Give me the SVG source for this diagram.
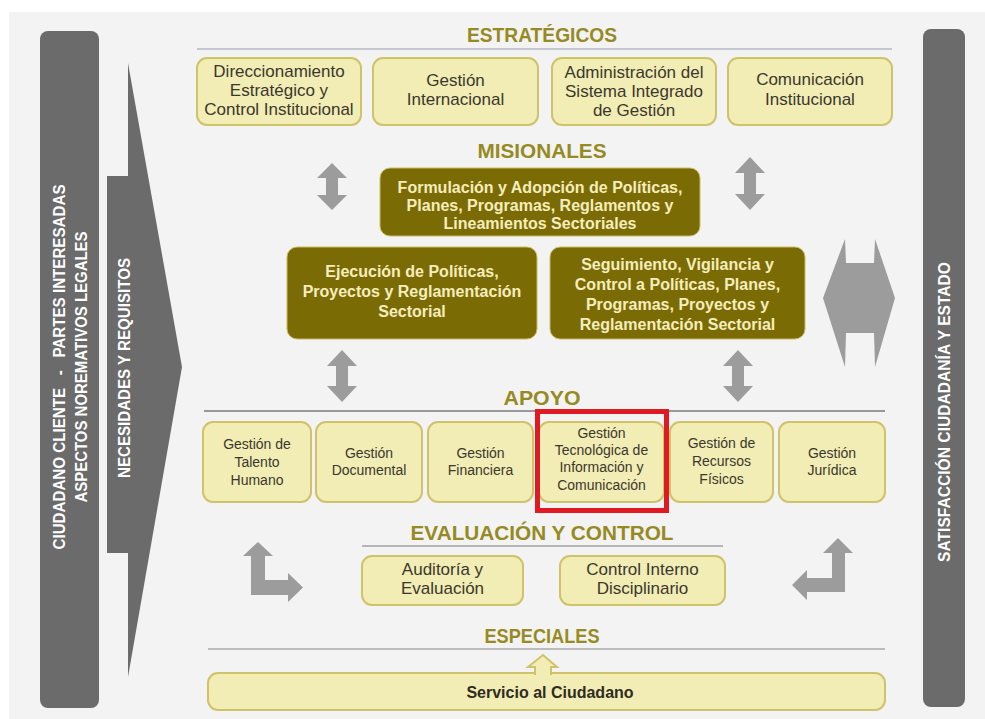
<svg xmlns="http://www.w3.org/2000/svg" width="985" height="719" viewBox="0 0 985 719">
<style>
text{font-family:"Liberation Sans",Arial,sans-serif}
.bg{fill:#f3f3f3}
.bar{fill:#6b6b6b}
.bartxt{fill:#ffffff;font-weight:bold;font-size:16px;text-anchor:middle}
.hdr{fill:#968a22;font-weight:bold;font-size:21px;text-anchor:middle}
.pale{fill:#f2ecb5;stroke:#cfc36a;stroke-width:2}
.olive{fill:#7b6b05;stroke:#c9bd62;stroke-width:1}
.t{fill:#3a382c;font-size:17px;text-anchor:middle}
.ts{fill:#3a382c;font-size:14px;text-anchor:middle}
.tm{fill:#f5eebc;font-size:16px;font-weight:bold;text-anchor:middle}
.arr{fill:#9c9c9c}
.rule{fill:none;stroke-width:1.5}
</style>
<rect x="0" y="0" width="985" height="719" fill="#ffffff"/>
<rect class="bg" x="9" y="12" width="976" height="707"/>

<g id="left-bar">
<rect class="bar" x="40" y="31" width="59" height="677" rx="8"/>
<text class="bartxt" transform="translate(65,367) rotate(-90)" textLength="365" lengthAdjust="spacingAndGlyphs">CIUDADANO CLIENTE&#160;&#160;&#160;-&#160;&#160;&#160;PARTES INTERESADAS</text>
<text class="bartxt" transform="translate(87,367) rotate(-90)" textLength="271" lengthAdjust="spacingAndGlyphs">ASPECTOS NOREMATIVOS LEGALES</text>
</g>

<g id="needs-arrow">
<polygon class="bar" points="128,63 182,367 128,677 128,553 107,553 107,176 128,176"/>
<text class="bartxt" transform="translate(130,368) rotate(-90)" textLength="220" lengthAdjust="spacingAndGlyphs">NECESIDADES Y REQUISITOS</text>
</g>

<g id="right-bar">
<rect class="bar" x="923" y="29" width="42" height="678" rx="8"/>
<text class="bartxt" transform="translate(950,412) rotate(-90)" textLength="300" lengthAdjust="spacingAndGlyphs">SATISFACCIÓN CIUDADANÍA Y ESTADO</text>
</g>

<g id="headers">
<text class="hdr" x="542" y="42" textLength="150" lengthAdjust="spacingAndGlyphs">ESTRATÉGICOS</text>
<text class="hdr" x="542" y="158" textLength="129" lengthAdjust="spacingAndGlyphs">MISIONALES</text>
<text class="hdr" x="542" y="405" textLength="77" lengthAdjust="spacingAndGlyphs">APOYO</text>
<text class="hdr" x="542" y="540" textLength="263" lengthAdjust="spacingAndGlyphs">EVALUACIÓN Y CONTROL</text>
<text class="hdr" x="542" y="643" textLength="115" lengthAdjust="spacingAndGlyphs">ESPECIALES</text>
<line class="rule" x1="197" y1="49" x2="892" y2="49" stroke="#b4b8c6"/>
<line class="rule" x1="204" y1="411" x2="885" y2="411" stroke="#7a7a7a"/>
<line class="rule" x1="362" y1="546" x2="723" y2="546" stroke="#a0a0a0"/>
<line class="rule" x1="208" y1="649" x2="885" y2="649" stroke="#aaaaaa"/>
</g>

<g id="e1"><rect class="pale" x="197" y="58" width="164" height="67" rx="10"/>
<text class="t" x="279" y="77">Direccionamiento</text><text class="t" x="279" y="96">Estratégico y</text><text class="t" x="279" y="115">Control Institucional</text></g>
<g id="e2"><rect class="pale" x="373" y="58" width="165" height="67" rx="10"/>
<text class="t" x="455.5" y="86">Gestión</text><text class="t" x="455.5" y="105">Internacional</text></g>
<g id="e3"><rect class="pale" x="552" y="58" width="164" height="67" rx="10"/>
<text class="t" x="634" y="78">Administración del</text><text class="t" x="634" y="97">Sistema Integrado</text><text class="t" x="634" y="116">de Gestión</text></g>
<g id="e4"><rect class="pale" x="728" y="58" width="164" height="67" rx="10"/>
<text class="t" x="810" y="85">Comunicación</text><text class="t" x="810" y="105">Institucional</text></g>

<g id="m1"><rect class="olive" x="380" y="168" width="320" height="68" rx="10"/>
<text class="tm" x="540" y="193">Formulación y Adopción de Políticas,</text><text class="tm" x="540" y="211">Planes, Programas, Reglamentos y</text><text class="tm" x="540" y="229">Lineamientos Sectoriales</text></g>
<g id="m2"><rect class="olive" x="287" y="247" width="250" height="92" rx="10"/>
<text class="tm" x="412" y="277">Ejecución de Políticas,</text><text class="tm" x="412" y="297">Proyectos y Reglamentación</text><text class="tm" x="412" y="317">Sectorial</text></g>
<g id="m3"><rect class="olive" x="550" y="247" width="255" height="92" rx="10"/>
<text class="tm" x="677.5" y="270">Seguimiento, Vigilancia y</text><text class="tm" x="677.5" y="290">Control a Políticas, Planes,</text><text class="tm" x="677.5" y="310">Programas, Proyectos y</text><text class="tm" x="677.5" y="330">Reglamentación Sectorial</text></g>

<g id="a1"><rect class="pale" x="203" y="422" width="108" height="80" rx="10"/>
<text class="ts" x="257" y="449">Gestión de</text><text class="ts" x="257" y="467">Talento</text><text class="ts" x="257" y="485">Humano</text></g>
<g id="a2"><rect class="pale" x="316" y="422" width="106" height="80" rx="10"/>
<text class="ts" x="369" y="458">Gestión</text><text class="ts" x="369" y="475">Documental</text></g>
<g id="a3"><rect class="pale" x="428" y="422" width="105" height="80" rx="10"/>
<text class="ts" x="480.5" y="458">Gestión</text><text class="ts" x="480.5" y="475">Financiera</text></g>
<g id="a4"><rect class="pale" x="539" y="422" width="125" height="80" rx="10"/>
<text class="ts" x="601.5" y="438">Gestión</text><text class="ts" x="601.5" y="455">Tecnológica de</text><text class="ts" x="601.5" y="472">Información y</text><text class="ts" x="601.5" y="490">Comunicación</text>
<rect x="537.5" y="411.5" width="129" height="99" fill="none" stroke="#e01a22" stroke-width="5"/></g>
<g id="a5"><rect class="pale" x="670" y="422" width="103" height="80" rx="10"/>
<text class="ts" x="721.5" y="448">Gestión de</text><text class="ts" x="721.5" y="466">Recursos</text><text class="ts" x="721.5" y="484">Físicos</text></g>
<g id="a6"><rect class="pale" x="779" y="422" width="106" height="80" rx="10"/>
<text class="ts" x="832" y="458">Gestión</text><text class="ts" x="832" y="475">Jurídica</text></g>

<g id="c1"><rect class="pale" x="362" y="556" width="161" height="49" rx="10"/>
<text class="t" x="442.5" y="575">Auditoría y</text><text class="t" x="442.5" y="594">Evaluación</text></g>
<g id="c2"><rect class="pale" x="560" y="556" width="165" height="49" rx="10"/>
<text class="t" x="642.5" y="575">Control Interno</text><text class="t" x="642.5" y="594">Disciplinario</text></g>

<g id="s1"><rect class="pale" x="208" y="673" width="677" height="37" rx="10"/>
<path class="pale" d="M535,675 V667 H528 L543,655 L557,667 H551 V675"/>
<text x="550" y="698" fill="#2e2c22" font-size="16" font-weight="bold" text-anchor="middle">Servicio al Ciudadano</text></g>

<g id="connectors">
<polygon class="arr" points="332,163 347,178 338,178 338,195 347,195 332,210 317,195 326,195 326,178 317,178"/>
<polygon class="arr" points="750,157 765,173 756,173 756,194 765,194 750,210 735,194 744,194 744,173 735,173"/>
<polygon class="arr" points="342,350 357,366 348,366 348,386 357,386 342,402 327,386 336,386 336,366 327,366"/>
<polygon class="arr" points="738,350 753,366 744,366 744,386 753,386 738,402 723,386 732,386 732,366 723,366"/>
<polygon class="arr" points="823,298 845,239 846,263 874,263 875,239 895,298 875,367 874,333 846,333 845,367"/>
<polygon class="arr" points="258,542 273,556 265,556 265,580 288,580 288,573 303,587.5 288,602 288,595 251,595 251,556 243,556"/>
<polygon class="arr" points="838,538 853,553 845,553 845,592 807,592 807,600 792,585 807,570 807,578 832,578 832,553 823,553"/>
</g>
</svg>
